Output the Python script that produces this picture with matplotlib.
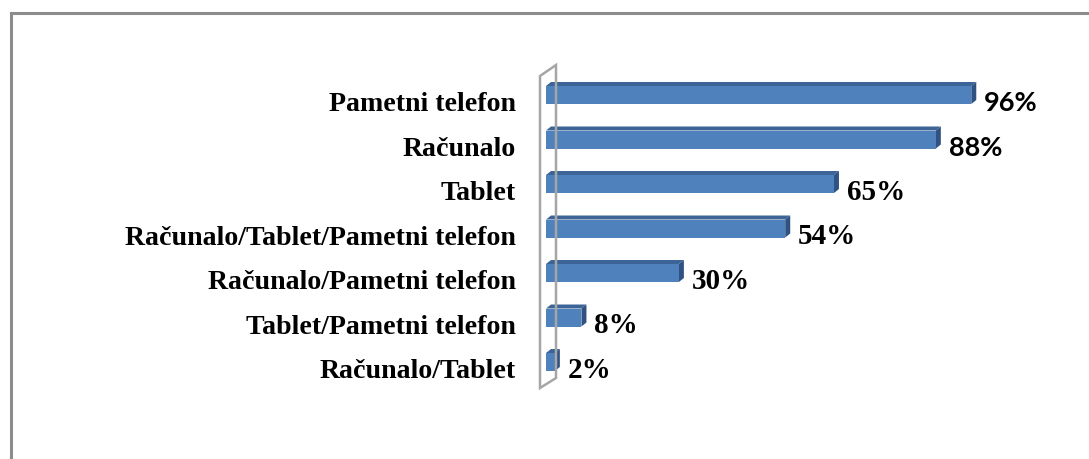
import matplotlib
matplotlib.use("Agg")
import matplotlib.pyplot as plt
from matplotlib.patches import Polygon
from matplotlib.transforms import offset_copy

categories = ["Pametni telefon", "Računalo", "Tablet", "Računalo/Tablet/Pametni telefon",
              "Računalo/Pametni telefon", "Tablet/Pametni telefon", "Računalo/Tablet"]
values = [96, 88, 65, 54, 30, 8, 2]
value_labels = ["96%", "88%", "65%", "54%", "30%", "8%", "2%"]
label_fonts = ["Lato", "Lato", "Liberation Serif", "Liberation Serif",
               "Liberation Serif", "Liberation Serif", "Liberation Serif"]
label_sizes = [19.5, 19.5, 21, 21, 21, 21, 21]

W, H = 1089, 459
fig = plt.figure(figsize=(W / 100, H / 100), dpi=100)
fig.patch.set_facecolor("white")

# chart border (left and top edges visible)
fig.add_artist(plt.Line2D([11 / W, 11 / W], [0, 1 - 13 / H], color="#8c8c8c", lw=2.2))
fig.add_artist(plt.Line2D([11 / W, 1], [1 - 13 / H, 1 - 13 / H], color="#8c8c8c", lw=2.2))

# axes: x 0..100 maps to px 546..989 ; rows spaced 44.5 px, first centre at 95 px
x0, x1 = 546, 989
ytop, ybot = 72.75, 384.25
ax = fig.add_axes([x0 / W, 1 - ybot / H, (x1 - x0) / W, (ybot - ytop) / H])
ax.set_xlim(0, 100)
ax.set_ylim(len(categories) - 0.5, -0.5)
ax.axis("off")

pxx = 100 / (x1 - x0)          # data units per pixel in x
pxy = 1 / 44.5                  # data units per pixel in y
dx, dy = 5 * pxx, 4 * pxy       # 3D depth offset
bh = 18 * pxy                   # bar thickness

front = "#4f81bd"
topc = "#3c6496"
side = "#2f5283"

for i, v in enumerate(values):
    yt, yb = i - bh / 2, i + bh / 2
    ax.add_patch(Polygon([(0, yt), (v, yt), (v + dx, yt - dy), (dx, yt - dy)],
                         closed=True, fc=topc, ec="none", clip_on=False))
    ax.add_patch(Polygon([(v, yt), (v + dx, yt - dy), (v + dx, yb - dy), (v, yb)],
                         closed=True, fc=side, ec="none", clip_on=False))
    ax.add_patch(Polygon([(0, yt), (v, yt), (v, yb), (0, yb)],
                         closed=True, fc=front, ec="none", clip_on=False))

# side wall
wf = -6 * pxx
wb = 10 * pxx
wt_f = -0.5 + (76 - ytop) * pxy
wb_f = -0.5 + (388 - ytop) * pxy
wt_b = -0.5 + (65 - ytop) * pxy
wb_b = -0.5 + (378 - ytop) * pxy
ax.add_patch(Polygon([(wf, wt_f), (wb, wt_b), (wb, wb_b), (wf, wb_f)], closed=True,
                     fc="none", ec="#a6a6a6", lw=1.8, clip_on=False))

# category labels
tr = offset_copy(ax.transData, fig=fig, x=0, y=-7, units="points")
for i, c in enumerate(categories):
    ax.text(-30 * pxx, i, c, transform=tr, ha="right", va="center",
            fontsize=20.1, fontweight="bold", family="Liberation Serif", color="black")

# value labels
trv = offset_copy(ax.transData, fig=fig, x=0, y=-6, units="points")
for i, (v, t, f, s) in enumerate(zip(values, value_labels, label_fonts, label_sizes)):
    ax.text(v + dx + 8 * pxx, i, t, transform=trv, ha="left", va="center",
            fontsize=s, fontweight="bold", family=f, color="black")

fig.savefig("out.png", dpi=100, facecolor="white")
